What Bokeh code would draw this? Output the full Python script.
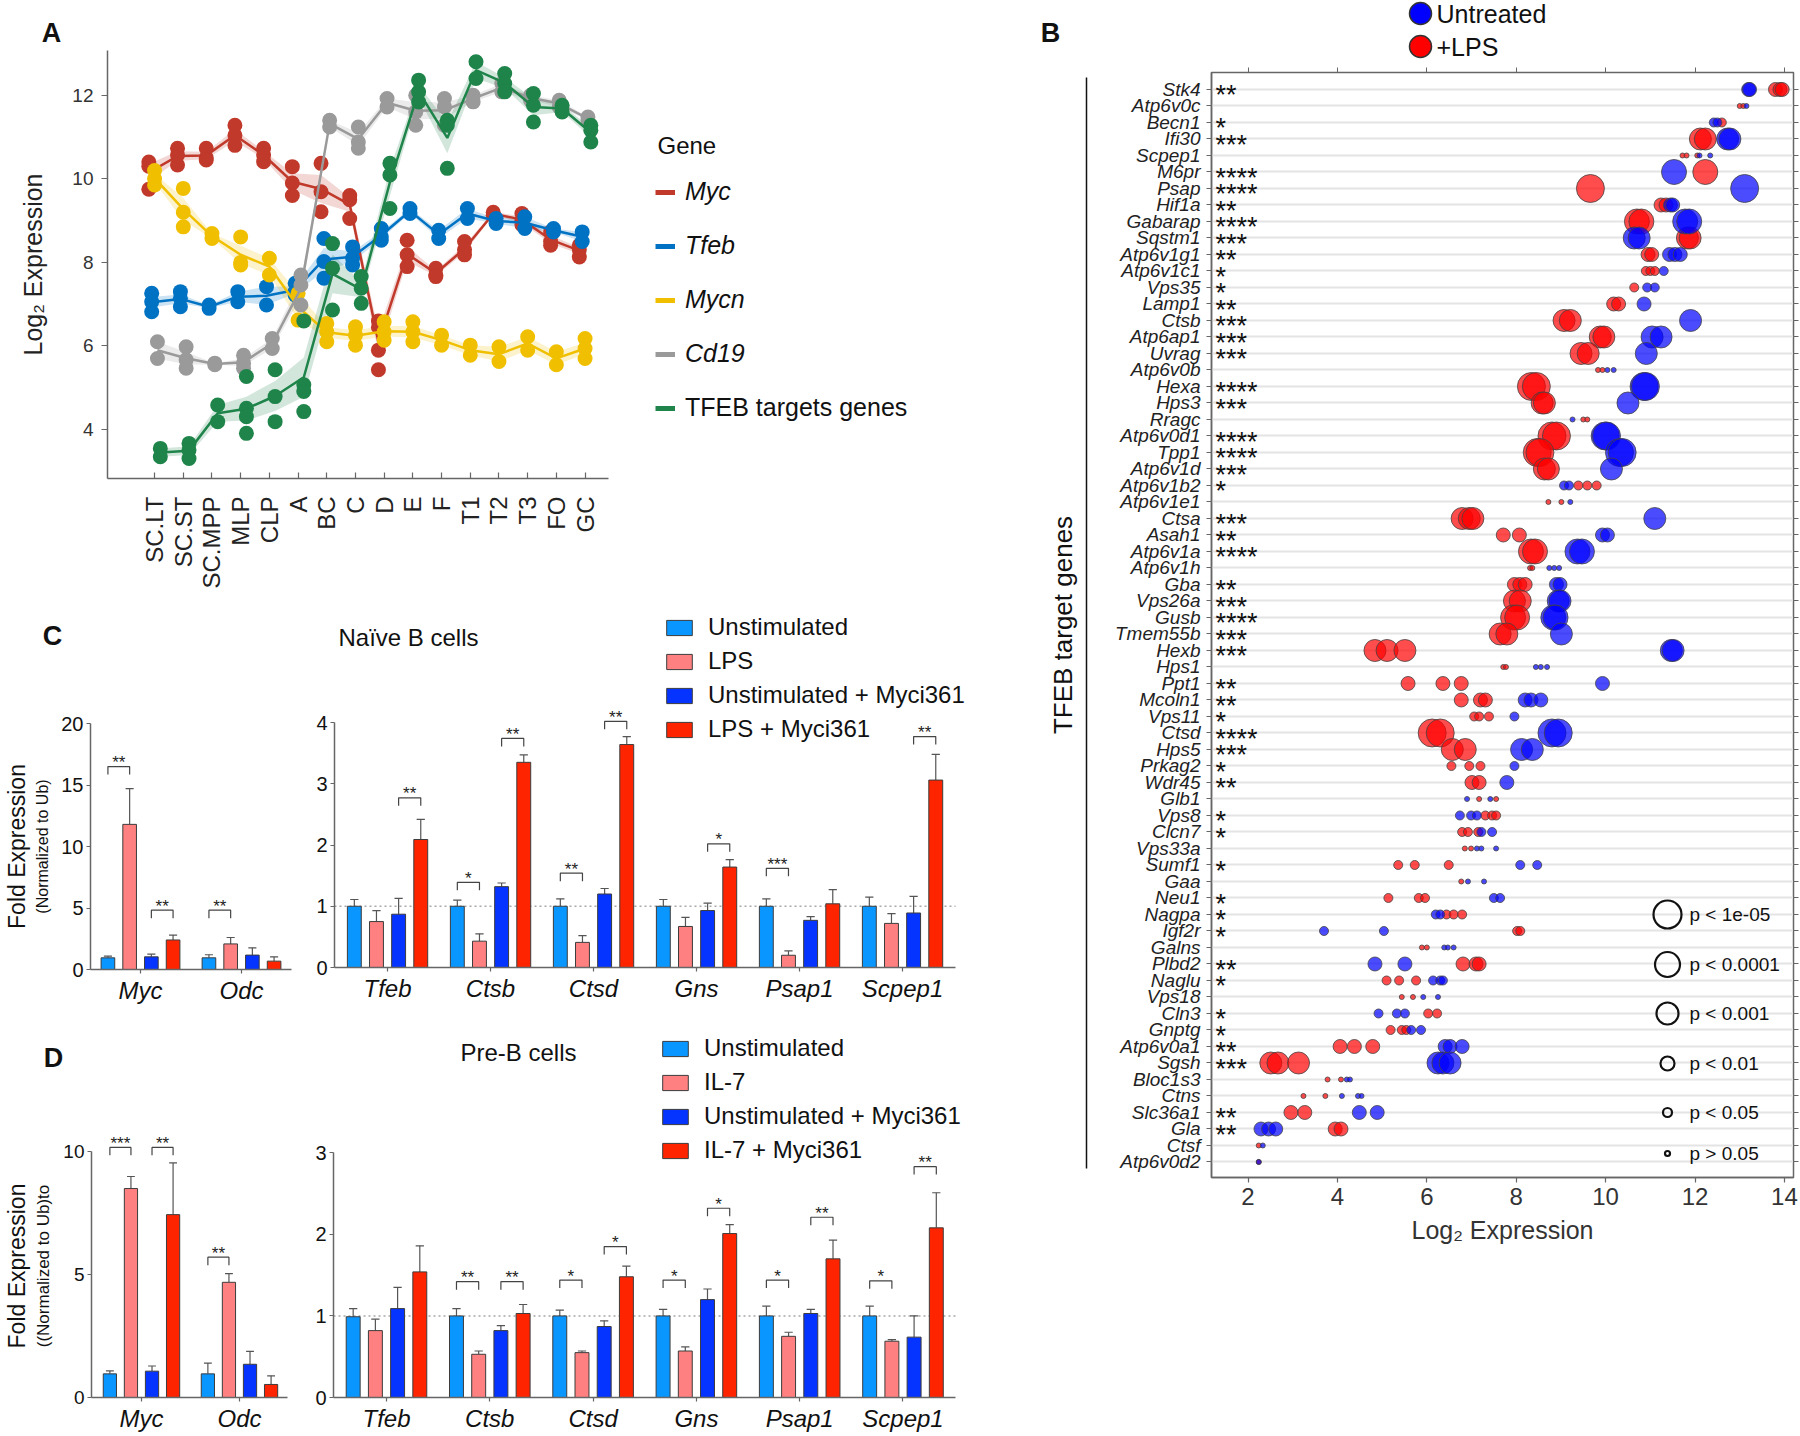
import numpy as np
from bokeh.plotting import figure
from bokeh.models import (Label, Legend, LegendItem, LinearAxis, FixedTicker,
                          Range1d)
from bokeh.layouts import row, column
from bokeh.embed import file_html
from bokeh.resources import INLINE
from bokeh.core.properties import value

FONT = "Liberation Sans"

# ------------------------------------------------------------------ data A
stages = ["SC.LT", "SC.ST", "SC.MPP", "MLP", "CLP", "A", "BC", "C", "D",
          "E", "F", "T1", "T2", "T3", "FO", "GC"]
genes_a = ["Myc", "Tfeb", "Mycn", "Cd19", "TFEB targets genes"]
myc_expr = [[10.4, 10.3, 9.75], [10.73, 10.57, 10.33], [10.73, 10.5, 10.45],
            [11.28, 11.04, 10.8], [10.73, 10.57, 10.41], [10.29, 9.9, 9.6],
            [10.37, 9.69, 9.21], [9.6, 9.5, 9.05], [6.6, 6.45, 5.9, 5.43],
            [8.53, 8.18, 7.9], [7.86, 7.7, 7.66], [8.5, 8.3, 8.18],
            [9.2, 9.13], [9.17, 9.0, 8.9], [8.73, 8.5, 8.41], [8.41, 8.3, 8.13]]
tfeb_expr = [[7.26, 7.06, 6.82], [7.3, 7.14, 6.94], [6.98, 6.9], [7.3, 7.06],
             [7.42, 6.98], [7.5, 7.22, 7.3], [8.57, 8.02, 7.62],
             [8.37, 8.1, 7.94], [8.81, 8.61, 8.53], [9.29, 9.17], [8.77, 8.57],
             [9.29, 9.05], [9.05, 8.93], [9.09, 8.81], [8.81, 8.73], [8.73, 8.5]]
mycn_expr = [[10.2, 10.0, 9.85], [9.77, 9.2, 8.85], [8.69, 8.57],
             [8.61, 8.0, 7.94], [8.1, 7.7], [7.26, 6.62], [6.54, 6.34, 6.1],
             [6.46, 6.26, 6.02], [6.58, 6.34, 6.14], [6.58, 6.34, 6.1],
             [6.26, 6.02], [6.02, 5.78], [5.98, 5.63], [6.22, 5.9],
             [5.86, 5.55], [6.18, 5.94, 5.7]]
cd19_expr = [[6.1, 5.7], [5.98, 5.67, 5.47], [5.59, 5.55], [5.78, 5.59, 5.47],
             [6.18, 5.94], [7.7, 7.46, 6.98], [11.4, 11.24],
             [11.24, 10.88, 10.73], [11.92, 11.72], [12.0, 11.6, 11.28],
             [11.92, 11.72, 11.28], [12.0, 11.84], [12.28, 12.08],
             [12.0, 11.88], [11.88, 11.72], [11.48, 11.4]]
tfeb_targets_expr = [[3.55, 3.35], [3.67, 3.51, 3.31], [4.59, 4.19],
                     [5.27, 4.51, 4.31, 3.91], [5.43, 4.79, 4.19],
                     [6.6, 5.07, 4.91, 4.43], [8.45, 7.86, 6.86],
                     [7.66, 7.38, 7.02], [10.37, 10.09, 9.29],
                     [12.36, 12.08, 11.84], [11.4, 11.28, 10.25], [12.8, 12.4],
                     [12.52, 12.28, 12.08], [12.04, 11.76, 11.36],
                     [11.76, 11.6], [11.28, 11.16, 10.88]]
a_ticks = [4, 6, 8, 10, 12]

# ------------------------------------------------------------------ data B
b_genes = ["Stk4", "Atp6v0c", "Becn1", "Ifi30", "Scpep1", "M6pr", "Psap",
           "Hif1a", "Gabarap", "Sqstm1", "Atp6v1g1", "Atp6v1c1", "Vps35",
           "Lamp1", "Ctsb", "Atp6ap1", "Uvrag", "Atp6v0b", "Hexa", "Hps3",
           "Rragc", "Atp6v0d1", "Tpp1", "Atp6v1d", "Atp6v1b2", "Atp6v1e1",
           "Ctsa", "Asah1", "Atp6v1a", "Atp6v1h", "Gba", "Vps26a", "Gusb",
           "Tmem55b", "Hexb", "Hps1", "Ppt1", "Mcoln1", "Vps11", "Ctsd",
           "Hps5", "Prkag2", "Wdr45", "Glb1", "Vps8", "Clcn7", "Vps33a",
           "Sumf1", "Gaa", "Neu1", "Nagpa", "Igf2r", "Galns", "Plbd2",
           "Naglu", "Vps18", "Cln3", "Gnptg", "Atp6v0a1", "Sgsh", "Bloc1s3",
           "Ctns", "Slc36a1", "Gla", "Ctsf", "Atp6v0d2"]
# p-value class: 0 p>0.05, 1 p<0.05, 2 p<0.01, 3 p<0.001, 4 p<1e-4, 5 p<1e-5
b_pcat = [2, 0, 1, 3, 0, 4, 5, 2, 4, 3, 2, 1, 1, 2, 3, 3, 3, 0, 5, 3,
          0, 5, 5, 3, 1, 0, 3, 2, 4, 0, 2, 3, 4, 3, 3, 0, 2, 2, 1, 5,
          3, 1, 2, 0, 1, 1, 0, 1, 0, 1, 1, 1, 0, 2, 1, 0, 1, 1, 2, 3,
          0, 0, 2, 2, 0, 0]
b_untreated = [[13.2, 13.22], [13.15], [12.42, 12.5], [12.73, 12.78],
               [12.1, 12.34], [11.53], [13.11], [11.45, 11.5], [11.78, 11.87],
               [10.64, 10.75], [11.43, 11.55, 11.67], [11.3], [10.93, 11.1],
               [10.86], [11.9], [11.04, 11.24], [10.91], [10.04, 10.18],
               [10.86, 10.89], [10.5], [9.26], [9.99, 10.02], [10.31, 10.37],
               [10.13], [9.07, 9.18], [9.21], [11.1], [9.93, 10.04],
               [9.37, 9.47], [8.74, 8.85, 8.96], [8.9, 8.98], [8.94, 8.98],
               [8.83, 8.88], [9.01], [11.47, 11.51], [8.44, 8.55, 8.69],
               [9.93], [8.2, 8.33, 8.55], [7.96], [8.8, 8.94], [8.12, 8.36],
               [7.96], [7.79], [6.9, 7.42], [6.74, 6.99, 7.12], [7.22, 7.46],
               [7.12, 7.22, 7.55], [8.09, 8.47], [6.92, 7.28], [7.5, 7.64],
               [6.2, 6.3], [3.7, 5.04], [6.39, 6.47, 6.6], [4.84, 5.51],
               [6.14, 6.3, 6.36], [5.92, 6.25], [4.92, 5.33, 5.51],
               [5.65, 5.87], [6.41, 6.52, 6.79], [6.25, 6.36, 6.52],
               [4.21, 4.28], [4.1, 4.46, 4.54], [4.49, 4.89],
               [2.29, 2.46, 2.62], [2.33], [2.24]]
b_lps = [[13.8, 13.9, 13.95], [13.0, 13.08], [12.6], [12.12, 12.23],
         [11.72, 11.81, 12.05], [12.23], [9.66], [11.24, 11.35], [10.7, 10.8],
         [11.83, 11.89], [10.95, 11.03], [10.9, 11.0, 11.1], [10.64],
         [10.18, 10.29], [9.07, 9.21], [9.88, 9.96], [9.45, 9.61],
         [9.83, 9.93], [8.34, 8.45], [8.58, 8.63], [9.5, 9.59], [8.8, 8.9],
         [8.47, 8.53], [8.63, 8.72], [9.39, 9.59, 9.8], [8.72, 9.01],
         [6.79, 6.95, 7.03], [7.71, 8.07], [8.33, 8.42], [8.31, 8.36],
         [7.96, 8.08, 8.2], [7.96, 8.09], [7.93, 8.02], [7.64, 7.79],
         [4.84, 5.11, 5.51], [7.71, 7.77], [5.58, 6.36, 6.77],
         [6.77, 7.2, 7.31], [7.06, 7.17, 7.39], [6.12, 6.3], [6.57, 6.86],
         [6.55, 6.95, 7.2], [7.01, 7.17], [7.17, 7.55], [7.31, 7.46, 7.55],
         [6.79, 6.92, 7.15], [6.85, 6.99], [5.36, 5.73, 6.49], [6.77],
         [5.14, 5.82, 5.96], [6.44, 6.6, 6.79], [8.02, 8.09], [5.89, 6.0],
         [6.81, 7.1, 7.17], [5.1, 5.38, 5.76], [5.44, 5.69], [6.03, 6.23],
         [5.19, 5.44, 5.54], [4.06, 4.38, 4.79], [2.51, 2.67, 3.13],
         [3.78, 4.08], [3.24, 3.73], [2.96, 3.27], [3.95, 4.08], [2.24],
         [2.24]]
b_groups = ["Untreated", "+LPS"]
p_class_labels = ["p < 1e-05", "p < 0.0001", "p < 0.001", "p < 0.01",
                  "p < 0.05", "p > 0.05"]
p_class_stars = ["", "*", "**", "***", "****", "****"]
b_ticks = [2, 4, 6, 8, 10, 12, 14]

# ------------------------------------------------------------------ data C
c_genes_left = ["Myc", "Odc"]
c_genes_right = ["Tfeb", "Ctsb", "Ctsd", "Gns", "Psap1", "Scpep1"]
c_conditions = ["Unstimulated", "LPS", "Unstimulated + Myci361", "LPS + Myci361"]
c_unstim = [0.95, 0.95, 1.0, 1.0, 1.0, 1.0, 1.0, 1.0]
c_unstim_err = [0.13, 0.25, 0.11, 0.1, 0.12, 0.11, 0.12, 0.15]
c_lps = [11.8, 2.08, 0.75, 0.43, 0.41, 0.67, 0.2, 0.72]
c_lps_err = [2.9, 0.52, 0.18, 0.12, 0.11, 0.15, 0.07, 0.16]
c_unstim_myci = [1.03, 1.17, 0.87, 1.32, 1.2, 0.93, 0.77, 0.89]
c_unstim_myci_err = [0.22, 0.59, 0.26, 0.06, 0.09, 0.12, 0.06, 0.27]
c_lps_myci = [2.4, 0.68, 2.09, 3.35, 3.64, 1.64, 1.04, 3.06]
c_lps_myci_err = [0.4, 0.35, 0.33, 0.12, 0.13, 0.12, 0.23, 0.42]
# (gene index within panel, bar a, bar b, bracket height, label)
c_brackets_left = [(0, 0, 1, 16.5, "**"), (0, 2, 3, 4.82, "**"),
                   (1, 0, 1, 4.82, "**")]
c_brackets_right = [(0, 2, 3, 2.77, "**"), (1, 0, 1, 1.39, "*"),
                    (1, 2, 3, 3.74, "**"), (2, 0, 1, 1.54, "**"),
                    (2, 2, 3, 4.02, "**"), (3, 2, 3, 2.02, "*"),
                    (4, 0, 1, 1.62, "***"), (5, 2, 3, 3.77, "**")]
c_ticks_left = [0, 5, 10, 15, 20]
c_ticks_right = [0, 1, 2, 3, 4]

# ------------------------------------------------------------------ data D
d_conditions = ["Unstimulated", "IL-7", "Unstimulated + Myci361", "IL-7 + Myci361"]
d_unstim = [0.96, 0.96, 0.99, 1.0, 1.0, 1.0, 1.0, 1.0]
d_unstim_err = [0.12, 0.44, 0.1, 0.09, 0.07, 0.08, 0.12, 0.12]
d_il7 = [8.49, 4.68, 0.82, 0.53, 0.55, 0.57, 0.75, 0.69]
d_il7_err = [0.49, 0.35, 0.14, 0.04, 0.02, 0.05, 0.05, 0.02]
d_unstim_myci = [1.07, 1.35, 1.09, 0.82, 0.87, 1.2, 1.03, 0.74]
d_unstim_myci_err = [0.21, 0.52, 0.26, 0.06, 0.07, 0.13, 0.05, 0.26]
d_il7_myci = [7.43, 0.53, 1.54, 1.03, 1.48, 2.01, 1.7, 2.08]
d_il7_myci_err = [2.1, 0.35, 0.32, 0.11, 0.13, 0.11, 0.23, 0.43]
d_brackets_left = [(0, 0, 1, 10.16, "***"), (0, 2, 3, 10.16, "**"),
                   (1, 0, 1, 5.7, "**")]
d_brackets_right = [(1, 0, 1, 1.42, "**"), (1, 2, 3, 1.42, "**"),
                    (2, 0, 1, 1.44, "*"), (2, 2, 3, 1.85, "*"),
                    (3, 0, 1, 1.44, "*"), (3, 2, 3, 2.32, "*"),
                    (4, 0, 1, 1.44, "*"), (4, 2, 3, 2.21, "**"),
                    (5, 0, 1, 1.43, "*"), (5, 2, 3, 2.83, "**")]
d_ticks_left = [0, 5, 10]
d_ticks_right = [0, 1, 2, 3]

# ------------------------------------------------------------------ styling
A_COLORS = ["#C0392B", "#0072C3", "#F0C000", "#9A9A9A", "#1E8449"]
A_DODGE = [-0.2, -0.1, 0.0, 0.1, 0.2]
BAR_COLORS = ["#0A96FF", "#FF8080", "#0533FF", "#FF2400"]
B_BLUE, B_RED = "#0000FF", "#FF0000"
B_SIZES = [5, 9, 14, 22, 25, 28]
BAR_STEP, BAR_W, CAP = 0.215, 0.135, 0.04
AXIS_COL = "#666666"

# figure geometry in page px: px,py = figure offset; fl,ft,fr,fb = frame edges (local)
gA = dict(px=0, py=50, w=1040, h=550, fl=107, ft=0, fr=1036, fb=428)
gC1 = dict(px=0, py=660, w=310, h=360, fl=86, ft=63, fr=293, fb=309)
gC2 = dict(px=310, py=600, w=730, h=420, fl=24, ft=0, fr=728, fb=367)
gD1 = dict(px=0, py=1080, w=310, h=354, fl=83, ft=54, fr=287, fb=319)
gD2 = dict(px=310, py=1020, w=730, h=414, fl=23, ft=0, fr=728, fb=379)
gB = dict(px=1040, py=60, w=760, h=1200, fl=171, ft=12, fr=753, fb=1117)


def make_fig(g, xr, yr):
    p = figure(width=g["w"], height=g["h"], x_range=xr, y_range=yr,
               output_backend="svg", toolbar_location=None,
               min_border_left=g["fl"], min_border_right=g["w"] - g["fr"],
               min_border_top=g["ft"], min_border_bottom=g["h"] - g["fb"])
    p.outline_line_color = None
    p.xgrid.visible = False
    p.ygrid.visible = False
    for ax in p.axis:
        ax.minor_tick_line_color = None
        ax.major_label_text_font = FONT
        ax.axis_label_text_font = FONT
        ax.axis_label_text_font_style = "normal"
        ax.axis_line_color = AXIS_COL
        ax.axis_line_width = 1.5
        ax.major_tick_line_color = AXIS_COL
        ax.major_tick_line_width = 1.2
    return p


def pixel_fig(w, h):
    """Axis-free strip whose data units are its own pixels (y downwards)."""
    p = figure(width=w, height=h, x_range=Range1d(0, w), y_range=Range1d(h, 0),
               output_backend="svg", toolbar_location=None, min_border=0,
               x_axis_type=None, y_axis_type=None)
    p.outline_line_color = None
    p.grid.visible = False
    return p


def frame_label(p, g, x, y, text, size, style="normal", align="center"):
    p.add_layout(Label(x=x - (g["px"] + g["fl"]), y=(g["py"] + g["fb"]) - y,
                       x_units="screen", y_units="screen", text=text,
                       text_font=FONT, text_font_size=f"{size}px",
                       text_font_style=style, text_align=align,
                       text_baseline="middle", text_color="#111111"))


def legend_loc(g, left, bottom):
    return (int(round(left - (g["px"] + g["fl"]))),
            int(round((g["py"] + g["fb"]) - bottom)))


def letter_strip(w, h, px, py, letter, x, y):
    s = pixel_fig(w, h)
    s.text(x=[x - px], y=[y - py], text=[letter], text_font=value(FONT),
           text_font_size="27px", text_font_style="bold", text_align="center",
           text_baseline="middle", text_color="#111111")
    return s


# ------------------------------------------------------------------ panel A
headA = letter_strip(1040, 50, 0, 0, "A", 51, 32)
a_ppx = 28.7
a_x0 = -1.64
a_ymin, a_ppy = 2.83, 41.8
pA = make_fig(gA, Range1d(a_x0, a_x0 + (gA["fr"] - gA["fl"]) / a_ppx),
              Range1d(a_ymin, a_ymin + (gA["fb"] - gA["ft"]) / a_ppy))
series_a = [myc_expr, tfeb_expr, mycn_expr, cd19_expr, tfeb_targets_expr]
stats = []
for gi, ser in enumerate(series_a):
    xs = [i + A_DODGE[gi] for i in range(len(stages))]
    means = [float(np.mean(v)) for v in ser]
    ses = [float(np.std(v, ddof=1) / np.sqrt(len(v))) for v in ser]
    stats.append((xs, means, ses))
    pA.varea(x=xs, y1=[m - s for m, s in zip(means, ses)],
             y2=[m + s for m, s in zip(means, ses)],
             fill_color=A_COLORS[gi], fill_alpha=0.2)
for gi, ser in enumerate(series_a):
    xs, means, ses = stats[gi]
    pA.line(xs, means, line_color=A_COLORS[gi], line_width=2.5)
    ptx = [i + A_DODGE[gi] for i, v in enumerate(ser) for _ in v]
    pty = [val for v in ser for val in v]
    pA.scatter(ptx, pty, size=15, fill_color=A_COLORS[gi], line_color=None)

pA.xaxis.ticker = FixedTicker(ticks=list(range(len(stages))))
pA.xaxis.bounds = (a_x0, len(stages) - 1 + 0.82)
pA.xaxis.major_label_overrides = {i: s for i, s in enumerate(stages)}
pA.xaxis.major_label_orientation = np.pi / 2
pA.xaxis.major_label_text_font_size = "24px"
pA.xaxis.major_label_text_color = "#222222"
pA.xaxis.major_tick_in = 6
pA.xaxis.major_tick_out = 0
pA.xaxis.major_label_standoff = 18
pA.yaxis.ticker = FixedTicker(ticks=a_ticks)
pA.yaxis.major_label_text_font_size = "19px"
pA.yaxis.major_label_text_color = "#333333"
pA.yaxis.major_tick_out = 6
pA.yaxis.major_tick_in = 0
pA.yaxis.major_label_standoff = 8
pA.yaxis.axis_label = "Log\u2082 Expression"
pA.yaxis.axis_label_text_font_size = "25px"
pA.yaxis.axis_label_text_color = "#222222"
pA.yaxis.axis_label_standoff = 22

# legend swatches: one undrawn (NaN) point per gene so the legend has a glyph
dummy_a = [pA.line(x=[np.nan], y=[np.nan], line_color=c, line_width=5)
           for c in A_COLORS]
legA1 = Legend(items=[LegendItem(label=genes_a[i], renderers=[dummy_a[i]])
                      for i in range(4)],
               location=legend_loc(gA, 655, 368))
legA2 = Legend(items=[LegendItem(label=genes_a[4], renderers=[dummy_a[4]])],
               location=legend_loc(gA, 655, 422))
for lg, st in ((legA1, "italic"), (legA2, "normal")):
    lg.label_text_font = FONT
    lg.label_text_font_size = "25px"
    lg.label_text_font_style = st
    lg.label_text_color = "#111111"
    lg.glyph_width = 20
    lg.glyph_height = 28
    lg.label_height = 28
    lg.label_standoff = 10
    lg.spacing = 25
    lg.padding = 0
    lg.margin = 0
    lg.border_line_color = None
    lg.background_fill_alpha = 0
    pA.add_layout(lg)
frame_label(pA, gA, 657, 145, "Gene", 24, align="left")


# ------------------------------------------------------------------ bar panels
def bar_panel(g, genes, means, errs, brackets, x0, ppx, ymax_axis, ppy,
              yticks, dotted, label_size, tick_size):
    n = len(genes)
    xr = Range1d(x0, x0 + (g["fr"] - g["fl"]) / ppx)
    yr = Range1d(0, (g["fb"] - g["ft"]) / ppy)
    p = make_fig(g, xr, yr)
    offs = [(k - 1.5) * BAR_STEP for k in range(4)]
    x_end = n - 1 - x0
    if dotted:
        p.segment(x0=[x0], y0=[1], x1=[x_end], y1=[1], line_color="#A8A8A8",
                  line_dash="2 3", line_width=1.5)
    rends = []
    for k in range(4):
        xs = [i + offs[k] for i in range(n)]
        tops = [m + e for m, e in zip(means[k], errs[k])]
        p.segment(x0=xs, y0=means[k], x1=xs, y1=tops, line_color="#555555",
                  line_width=1.2)
        p.segment(x0=[x - CAP for x in xs], y0=tops, x1=[x + CAP for x in xs],
                  y1=tops, line_color="#555555", line_width=1.2)
        r = p.vbar(x=xs, top=means[k], width=BAR_W, fill_color=BAR_COLORS[k],
                   line_color="#3C3C3C", line_width=1)
        rends.append(r)
    leg = 8.0 / ppy
    bx, by, tx, ty, tt = [], [], [], [], []
    for gi, a, b, yb, lab in brackets:
        xa, xb = gi + offs[a], gi + offs[b]
        bx.append([xa, xa, xb, xb])
        by.append([yb - leg, yb, yb, yb - leg])
        tx.append((xa + xb) / 2)
        ty.append(yb)
        tt.append(lab)
    p.multi_line(xs=bx, ys=by, line_color="#444444", line_width=1.2)
    p.text(x=tx, y=ty, text=tt, text_font=value(FONT), text_font_size="17px",
           text_align="center", text_baseline="middle", y_offset=-4,
           text_color="#222222")
    p.xaxis.ticker = FixedTicker(ticks=list(range(n)))
    p.xaxis.bounds = (x0, x_end)
    p.xaxis.major_label_overrides = {i: s for i, s in enumerate(genes)}
    p.xaxis.major_label_text_font_size = f"{label_size}px"
    p.xaxis.major_label_text_font_style = "italic"
    p.xaxis.major_label_text_color = "#111111"
    p.xaxis.major_tick_out = 4
    p.xaxis.major_tick_in = 0
    p.xaxis.major_label_standoff = 3
    p.yaxis.ticker = FixedTicker(ticks=yticks)
    p.yaxis.bounds = (0, ymax_axis)
    p.yaxis.major_label_text_font_size = f"{tick_size}px"
    p.yaxis.major_label_text_color = "#111111"
    p.yaxis.major_tick_out = 4
    p.yaxis.major_tick_in = 0
    p.yaxis.major_label_standoff = 3
    return p, rends


def y_titles(p, small, big, small_size):
    p.yaxis.axis_label = small
    p.yaxis.axis_label_text_font_size = f"{small_size}px"
    p.yaxis.axis_label_text_color = "#111111"
    p.yaxis.axis_label_standoff = 7
    outer = LinearAxis(ticker=FixedTicker(ticks=[]), axis_label=big,
                       axis_label_text_font=FONT,
                       axis_label_text_font_size="23px",
                       axis_label_text_font_style="normal",
                       axis_label_text_color="#111111", axis_label_standoff=2,
                       axis_line_color=None, major_tick_line_color=None,
                       minor_tick_line_color=None)
    p.add_layout(outer, "left")


def legend_bars(p, g, rends, labels, left, bottom):
    lg = Legend(items=[LegendItem(label=l, renderers=[r])
                       for l, r in zip(labels, rends)],
                location=legend_loc(g, left, bottom))
    lg.label_text_font = FONT
    lg.label_text_font_size = "24px"
    lg.label_text_color = "#111111"
    lg.glyph_width = 32
    lg.glyph_height = 19
    lg.label_height = 28
    lg.label_standoff = 13
    lg.spacing = 6
    lg.padding = 0
    lg.margin = 0
    lg.border_line_color = None
    lg.background_fill_alpha = 0
    p.add_layout(lg)


c_means = [c_unstim, c_lps, c_unstim_myci, c_lps_myci]
c_errs = [c_unstim_err, c_lps_err, c_unstim_myci_err, c_lps_myci_err]
d_means = [d_unstim, d_il7, d_unstim_myci, d_il7_myci]
d_errs = [d_unstim_err, d_il7_err, d_unstim_myci_err, d_il7_myci_err]

headC = letter_strip(310, 60, 0, 600, "C", 52, 635)
pC1, _ = bar_panel(gC1, c_genes_left, [m[:2] for m in c_means],
                   [e[:2] for e in c_errs], c_brackets_left,
                   -0.495, 103.0, 20, 12.3, c_ticks_left, False, 24, 20)
y_titles(pC1, "(Normalized to Ub)", "Fold Expression", 16)
pC2, rC = bar_panel(gC2, c_genes_right, [m[2:] for m in c_means],
                    [e[2:] for e in c_errs], c_brackets_right,
                    -0.515, 103.0, 4, 61.25, c_ticks_right, True, 24, 20)
legend_bars(pC2, gC2, rC, c_conditions, 663, 743)
frame_label(pC2, gC2, 408, 637, "Na\u00efve B cells", 24)

headD = letter_strip(310, 60, 0, 1020, "D", 53, 1057)
pD1, _ = bar_panel(gD1, c_genes_left, [m[:2] for m in d_means],
                   [e[:2] for e in d_errs], d_brackets_left,
                   -0.51, 102.0, 10, 24.8, d_ticks_left, False, 24, 19)
y_titles(pD1, "((Normalized to Ub)to", "Fold Expression", 17)
pD2, rD = bar_panel(gD2, c_genes_right, [m[2:] for m in d_means],
                    [e[2:] for e in d_errs], d_brackets_right,
                    -0.513, 103.3, 3, 82.0, d_ticks_right, True, 24, 20)
legend_bars(pD2, gD2, rD, d_conditions, 659, 1166)
frame_label(pD2, gD2, 518, 1054, "Pre-B cells", 24)

# ------------------------------------------------------------------ panel B
B_PPU_X, B_PPU_Y = 44.7, 16.5
BX0 = 1.183
BY1 = 66.03
BX1 = BX0 + (gB["fr"] - gB["fl"]) / B_PPU_X
BY0 = BY1 - (gB["fb"] - gB["ft"]) / B_PPU_Y
nB = len(b_genes)
rows_y = [nB - 1 - i for i in range(nB)]
pB = make_fig(gB, Range1d(BX0, BX1), Range1d(BY0, BY1))
pB.outline_line_color = AXIS_COL
pB.outline_line_width = 1.5
pB.ygrid.visible = True
pB.ygrid.ticker = FixedTicker(ticks=rows_y)
pB.ygrid.grid_line_color = "#E4E4E4"
pB.ygrid.grid_line_width = 2

bx_u, by_u, bs_u, bx_l, by_l, bs_l = [], [], [], [], [], []
for i in range(nB):
    for v in b_untreated[i]:
        bx_u.append(v); by_u.append(rows_y[i]); bs_u.append(B_SIZES[b_pcat[i]])
    for v in b_lps[i]:
        bx_l.append(v); by_l.append(rows_y[i]); bs_l.append(B_SIZES[b_pcat[i]])
pB.scatter(bx_l, by_l, size=bs_l, fill_color=B_RED, fill_alpha=0.7,
           line_color="#444444", line_alpha=0.8, line_width=1)
pB.scatter(bx_u, by_u, size=bs_u, fill_color=B_BLUE, fill_alpha=0.7,
           line_color="#444444", line_alpha=0.8, line_width=1)

pB.text(x=[BX0] * nB, y=rows_y, text=[p_class_stars[c] for c in b_pcat],
        x_offset=4, y_offset=6, text_font=value(FONT), text_font_size="27px",
        text_align="left", text_baseline="middle", text_color="#111111")

# size legend (inside frame)
fr_top = gB["py"] + gB["ft"]
fr_left = gB["px"] + gB["fl"]
leg_rows_px = [914, 964, 1013, 1063, 1112, 1153]
leg_y = [BY1 - (py - fr_top) / B_PPU_Y for py in leg_rows_px]
leg_cx = BX0 + (1667 - fr_left) / B_PPU_X
leg_tx = BX0 + (1689 - fr_left) / B_PPU_X
pB.scatter([leg_cx] * 6, leg_y, size=B_SIZES[::-1], fill_color=None,
           line_color="#111111", line_width=2.2)
pB.text(x=[leg_tx] * 6, y=leg_y, text=p_class_labels, text_font=value(FONT),
        text_font_size="19px", text_align="left", text_baseline="middle",
        text_color="#111111")

yax = pB.yaxis[0]
yax.ticker = FixedTicker(ticks=rows_y)
yax.major_label_overrides = {rows_y[i]: b_genes[i] for i in range(nB)}
yax.major_label_text_font_size = "19px"
yax.major_label_text_font_style = "italic"
yax.major_label_text_color = "#222222"
yax.major_tick_out = 5
yax.major_tick_in = 0
yax.major_label_standoff = 6
yax.axis_label = " "
yax.axis_label_text_font_size = "1px"
yax.axis_label_standoff = 21

ax2 = LinearAxis(ticker=FixedTicker(ticks=[]), axis_label="TFEB target genes",
                 axis_label_text_font=FONT, axis_label_text_font_size="26px",
                 axis_label_text_font_style="normal",
                 axis_label_text_color="#111111", axis_label_standoff=9,
                 axis_line_color="#111111", axis_line_width=1.5,
                 bounds=(-0.4, 65.7), major_tick_line_color=None,
                 minor_tick_line_color=None)
pB.add_layout(ax2, "left")

xax = pB.xaxis[0]
xax.ticker = FixedTicker(ticks=b_ticks)
xax.major_label_text_font_size = "24px"
xax.major_label_text_color = "#333333"
xax.major_tick_out = 5
xax.major_tick_in = 0
xax.major_label_standoff = 5
xax.axis_label = "Log\u2082 Expression"
xax.axis_label_text_font_size = "25px"
xax.axis_label_text_color = "#333333"
xax.axis_label_standoff = 8

top_ax = LinearAxis(ticker=FixedTicker(ticks=b_ticks),
                    major_label_overrides={t: "" for t in b_ticks},
                    major_label_text_font_size="1px", major_label_standoff=0,
                    major_tick_out=5, major_tick_in=0,
                    major_tick_line_color=AXIS_COL, axis_line_color=AXIS_COL,
                    minor_tick_line_color=None)
pB.add_layout(top_ax, "above")
right_ax = LinearAxis(ticker=FixedTicker(ticks=rows_y),
                      major_label_overrides={t: "" for t in rows_y},
                      major_label_text_font_size="1px", major_label_standoff=0,
                      major_tick_out=5, major_tick_in=0,
                      major_tick_line_color=AXIS_COL, axis_line_color=AXIS_COL,
                      minor_tick_line_color=None)
pB.add_layout(right_ax, "right")

# B header strip: panel letter and colour legend
headB = pixel_fig(760, 60)
headB.text(x=[1050 - 1040], y=[32], text=["B"], text_font=value(FONT),
           text_font_size="27px", text_font_style="bold", text_align="center",
           text_baseline="middle", text_color="#111111")
headB.scatter(x=[1420 - 1040] * 2, y=[13, 46], size=22,
              fill_color=[B_BLUE, B_RED], line_color="#333333", line_width=1.5)
headB.text(x=[1436 - 1040] * 2, y=[13, 46], text=b_groups,
           text_font=value(FONT), text_font_size="25px", text_align="left",
           text_baseline="middle", text_color="#111111")

# strips are wrapped in rows so their frames are not aligned to the plots below
left_col = column(row(headA), pA, row(column(row(headC), pC1), pC2),
                  row(column(row(headD), pD1), pD2))
layout = row(left_col, column(row(headB), pB))
open("out.html", "w", encoding="utf-8").write(file_html(layout, INLINE))
